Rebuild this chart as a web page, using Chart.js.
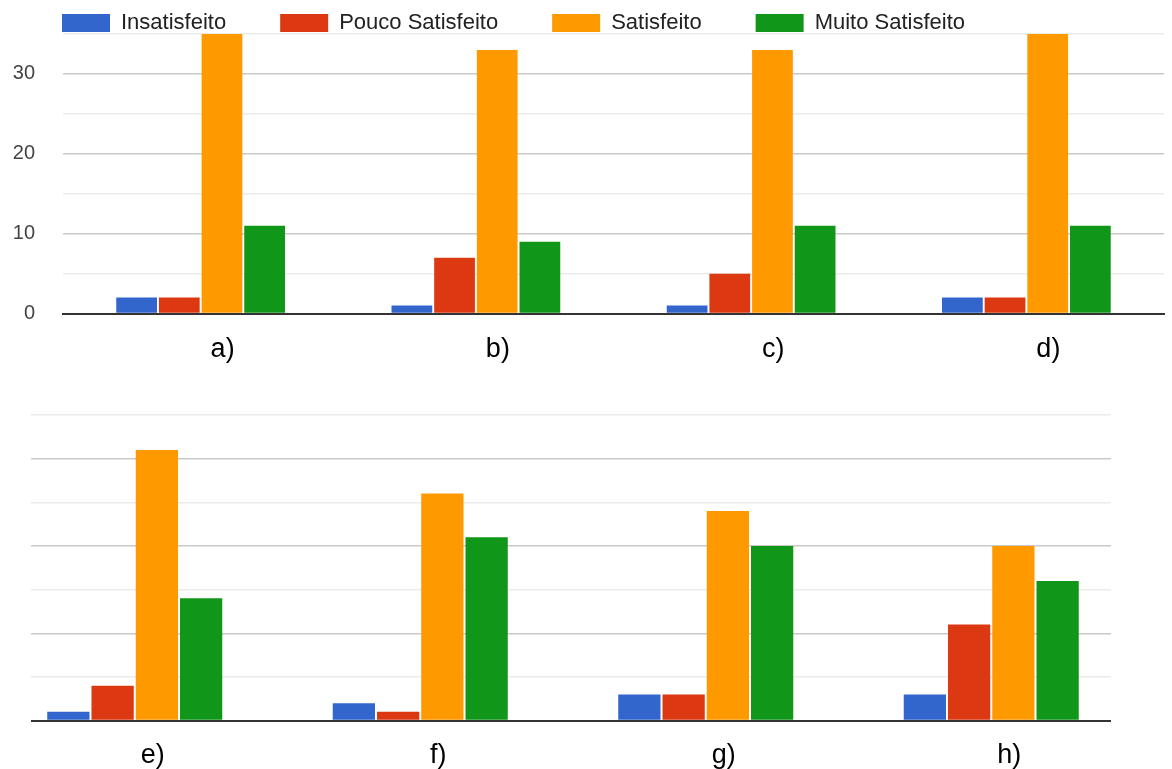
<!DOCTYPE html>
<html>
<head>
<meta charset="utf-8">
<script src="https://cdn.jsdelivr.net/npm/chart.js@4.4.0/dist/chart.umd.min.js"></script>
<style>
  html, body { margin: 0; padding: 0; background: #fff; overflow: hidden; }
  body { width: 1172px; height: 769px; position: relative; }
  #top { position: absolute; left: 0; top: -6px; width: 1172px; height: 400px; }
  #bottom { position: absolute; left: -8px; top: 380px; width: 1180px; height: 411px; }
</style>
</head>
<body>
<div id="top"><canvas id="chartTop"></canvas></div>
<div id="bottom"><canvas id="chartBottom"></canvas></div>
<script>
// series
const seriesNames = ['Insatisfeito', 'Pouco Satisfeito', 'Satisfeito', 'Muito Satisfeito'];
const seriesColors = ['#3366cc', '#dc3912', '#ff9900', '#109618'];

// top chart a) - d)
const topLabels = ['a)', 'b)', 'c)', 'd)'];
const topInsatisfeito = [2, 1, 1, 2];
const topPouco = [2, 7, 5, 2];
const topSatisfeito = [35, 33, 33, 35];
const topMuito = [11, 9, 11, 11];

// bottom chart e) - h)
const bottomLabels = ['e)', 'f)', 'g)', 'h)'];
const bottomInsatisfeito = [1, 2, 3, 3];
const bottomPouco = [4, 1, 3, 11];
const bottomSatisfeito = [31, 26, 24, 20];
const bottomMuito = [14, 21, 20, 16];

const yMax = 35;
const yStep = 5;

Chart.defaults.font.family = '"Liberation Sans", Arial, sans-serif';
Chart.defaults.animation = false;

function makeDatasets(values) {
  return values.map((data, i) => ({
    label: seriesNames[i],
    data: data,
    backgroundColor: seriesColors[i],
    borderWidth: 0,
    categoryPercentage: 0.62,
    barPercentage: 0.955
  }));
}

// lighter lines on the odd fives, darker on the tens
const gridColor = ctx => {
  const v = ctx.tick.value;
  if (v === 0) return 'transparent';
  return v % 10 === 0 ? '#c9c9c9' : '#ebebeb';
};

function makeScales(showY, labelOffset, pad) {
  return {
    x: {
      grid: { display: false, drawTicks: false },
      border: { color: '#333', width: 2 },
      ticks: {
        color: '#000',
        font: { size: 27 },
        padding: pad,
        labelOffset: labelOffset,
        maxRotation: 0
      }
    },
    y: {
      min: 0,
      max: yMax,
      grid: { color: gridColor, lineWidth: 1.5, drawTicks: false },
      border: { display: false },
      ticks: {
        display: showY,
        stepSize: yStep,
        color: '#444',
        font: { size: 20 },
        padding: 28,
        callback: v => (v % 10 === 0 ? v : '')
      },
      afterFit: s => { s.width = showY ? 55 : 0; }
    }
  };
}

new Chart(document.getElementById('chartTop'), {
  type: 'bar',
  data: {
    labels: topLabels,
    datasets: makeDatasets([topInsatisfeito, topPouco, topSatisfeito, topMuito])
  },
  options: {
    responsive: true,
    maintainAspectRatio: false,
    layout: { padding: { top: -48, left: 8, right: 8, bottom: 8 } },
    plugins: {
      legend: {
        position: 'top',
        align: 'start',
        maxHeight: 76,
        labels: {
          color: '#222',
          font: { size: 22 },
          boxWidth: 48,
          boxHeight: 18,
          padding: 54
        }
      },
      tooltip: { enabled: false }
    },
    scales: makeScales(true, 22, 20)
  }
});

// bottom panel: gridlines only run from x=31 to x=1110 on the page
const gridClip = {
  id: 'gridClip',
  beforeDatasetsDraw(chart) {
    const { ctx, chartArea } = chart;
    ctx.save();
    ctx.fillStyle = '#fff';
    ctx.fillRect(chartArea.left - 2, chartArea.top - 3, 39 - chartArea.left + 2, chartArea.height + 6);
    ctx.fillRect(1119, chartArea.top - 3, chartArea.right + 4 - 1119, chartArea.height + 6);
    ctx.restore();
  }
};

new Chart(document.getElementById('chartBottom'), {
  type: 'bar',
  data: {
    labels: bottomLabels,
    datasets: makeDatasets([bottomInsatisfeito, bottomPouco, bottomSatisfeito, bottomMuito])
  },
  options: {
    responsive: true,
    maintainAspectRatio: false,
    layout: { padding: { top: 35, left: 0, right: 38, bottom: 0 } },
    plugins: {
      legend: { display: false },
      tooltip: { enabled: false }
    },
    scales: makeScales(false, 18, 19)
  },
  plugins: [gridClip]
});
</script>
</body>
</html>
